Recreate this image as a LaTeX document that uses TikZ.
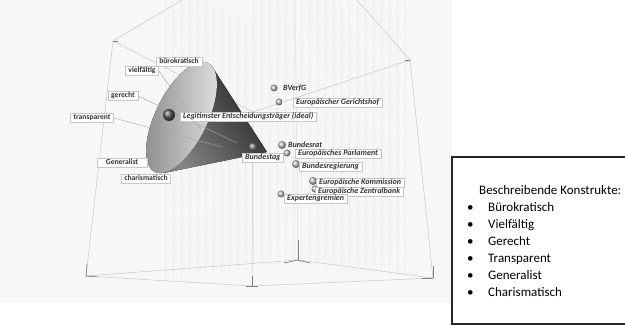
\documentclass[tikz,border=0pt]{standalone}
\usepackage{fontspec}
\setmainfont{Carlito}
\usetikzlibrary{calc}

\begin{document}
\begin{tikzpicture}[x=1pt, y=-1pt,
    grd/.style={draw=black!7, line width=0.25pt},
    frm/.style={draw=black!22, line width=0.5pt},
    tck/.style={draw=black!50, line width=0.7pt},
    axl/.style={draw=black!35, line width=0.4pt},
    cons/.style={draw=black!22, fill=white, line width=0.4pt, text=black!80, inner xsep=3pt, inner ysep=1pt,
      text height=5.5pt, text depth=1.6pt, font=\fontsize{7.6}{8}\selectfont\bfseries},
    elm/.style={cons, anchor=west, font=\fontsize{8}{9}\selectfont\bfseries\itshape},
    sph/.style={circle, inner sep=0pt, shading=ball, ball color=black!25, minimum size=#1},
    sph/.default=7pt,
    lgd/.style={anchor=west, inner sep=0pt, text height=9pt, text depth=3pt, font=\fontsize{13}{15}\selectfont}]
  \useasboundingbox (0,0) rectangle (625,326);
  \fill[black!3] (0,0) rectangle (452,303);

  % grid walls
  \coordinate (a00) at (253,0);   \coordinate (a10) at (405,-30);
  \coordinate (a01) at (253,262); \coordinate (a11) at (405,275);
  \coordinate (b00) at (165,-20); \coordinate (b10) at (253,25);
  \coordinate (b01) at (165,280); \coordinate (b11) at (253,268);
  \foreach \i in {0,...,19}
    \draw[grd] ($(a00)!\i/19!(a10)$) -- ($(a01)!\i/19!(a11)$);
  \foreach \j in {0,...,33}
    \draw[grd] ($(a00)!\j/33!(a01)$) -- ($(a10)!\j/33!(a11)$);
  \foreach \i in {0,...,11}
    \draw[grd] ($(b00)!\i/11!(b10)$) -- ($(b01)!\i/11!(b11)$);
  \foreach \j in {0,...,33}
    \draw[grd] ($(b00)!\j/33!(b01)$) -- ($(b10)!\j/33!(b11)$);

  % frame of the cube
  \coordinate (tl) at (113,41);  \coordinate (tr) at (410,60);
  \coordinate (cc) at (253,112); \coordinate (bl) at (86,276);
  \coordinate (bc) at (252,286); \coordinate (br) at (433,278);
  \coordinate (bb) at (298,260);
  \coordinate (tlu) at (182,0);  \coordinate (tru) at (357,0);
  \coordinate (bbu) at (295,0);
  \draw[frm] (tlu) -- (tl) -- (cc) -- (tr) -- (tru);
  \draw[frm] (tl) -- (bl) -- (bc) -- (br) -- (tr);
  \draw[frm] (bl) -- (bb) -- (br);
  \draw[frm] (cc) -- (bc);
  \draw[frm, draw=black!14] (bb) -- (bbu);
  \draw[tck] (bl) -- ++(11,1);   \draw[tck] (bl) -- ++(1,-12);
  \draw[tck] (bc) -- ++(-6,0);   \draw[tck] (bc) -- ++(6,0);   \draw[tck] (bc) -- ++(0,-10);
  \draw[tck] (bb) -- ++(-14,3);  \draw[tck] (bb) -- ++(12,3);  \draw[tck] (bb) -- ++(0,-20);
  \draw[tck] (br) -- ++(-11,0);  \draw[tck] (br) -- ++(0,-12);
  \draw[tck] (tr) -- ++(-5,0);   \draw[tck] (tl) -- ++(5,0);

  % cone
  \coordinate (apex) at (267,152);
  \coordinate (ct) at (213,68);
  \coordinate (cb) at (164,173);
  \coordinate (cm) at (181.5,117.5);
  \fill[top color=black!85, bottom color=black!48, shading angle=-57] (apex) -- (ct) -- (cb) -- cycle;
  \fill[left color=black!45, right color=black!12, rotate around={-26:(cm)}] (cm) ellipse [x radius=26pt, y radius=60.6pt];

  % construct labels
  \node[cons] (bur) at (179,62) {bürokratisch};
  \node[cons] (vie) at (142,71) {vielfältig};
  \node[cons] (ger) at (123,96) {gerecht};
  \node[cons] (tra) at (92,118) {transparent};
  \node[cons, minimum width=50pt] (gen) at (122,163) {Generalist};
  \node[cons] (cha) at (146,179) {charismatisch};

  \coordinate (o1) at (200,128);
  \coordinate (o2) at (222,147);
  \coordinate (o3) at (237,143);
  \draw[axl] (vie.east) -- (o1);
  \draw[axl] (ger.east) -- (o3);
  \draw[axl] (tra.east) -- (o2);
  \fill[black!60] (o1) circle (0.7pt);
  \fill[black!60] (o2) circle (0.7pt);

  % elements
  \node[elm] (leg) at (180,116.5) {Legitimster Entscheidungsträger (ideal)};
  \node[sph=12pt, ball color=black!65] (legB) at (169,115) {};
  \node[sph] (bvgB) at (274,88) {};
  \node[elm, draw=none, fill=none] (bvg) at (280,89) {BVerfG};
  \node[sph] (eghB) at (279,102) {};
  \node[elm] (egh) at (293,102.5) {Europäischer Gerichtshof};
  \node[sph=9pt, ball color=black!50] (btB) at (253,147) {};
  \node[elm] (bt) at (242,158) {Bundestag};
  \node[sph=8pt] (brB) at (282,145) {};
  \node[elm, draw=none, fill=none] (br) at (285,146) {Bundesrat};
  \node[sph] (epB) at (287,153) {};
  \node[elm] (ep) at (295,154) {Europäisches Parlament};
  \node[sph=8pt] (bregB) at (296,164) {};
  \node[elm] (breg) at (299,167) {Bundesregierung};
  \node[sph=8pt] (ekB) at (313,181) {};
  \node[elm] (ek) at (316,183) {Europäische Kommission};
  \node[sph] (ezB) at (315,189) {};
  \node[elm] (ez) at (315,192) {Europäische Zentralbank};
  \node[sph] (expB) at (281,194) {};
  \node[elm] (exp) at (284,199) {Expertengremien};

  % legend
  \draw[line width=1.3pt, black!85] (625,157) -| (452,324) -- (625,324);
  \node[lgd] (hdr) at (479,192) {Beschreibende Konstrukte:};
  \foreach \t [count=\k] in {Bürokratisch, Vielfältig, Gerecht, Transparent, Generalist, Charismatisch} {
    \node[lgd] (bu\k) at (467,192+17*\k) {•};
    \node[lgd] (it\k) at (488,192+17*\k) {\t};
  }
\end{tikzpicture}
\end{document}
